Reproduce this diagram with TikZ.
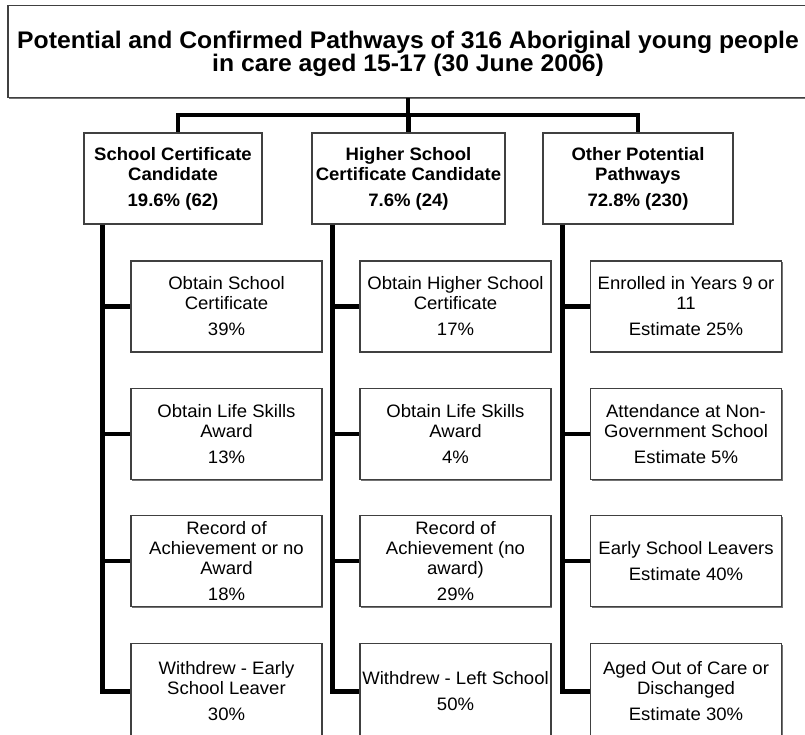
\documentclass[tikz,border=0pt]{standalone}
\usepackage{fontspec}
\setmainfont{Liberation Sans}[FakeStretch=1.03]
\usetikzlibrary{positioning, calc, shadows}
\tikzset{
  box/.style = {draw=black!75, line width=1.1pt, fill=white, align=center, inner sep=2pt,
    drop shadow={shadow xshift=1.3pt, shadow yshift=-1.3pt, fill=black!55, opacity=1}},
  head/.style = {box, font=\bfseries\fontsize{18}{20}\selectfont, minimum height=91pt},
  leaf/.style = {box, font=\fontsize{18}{20}\selectfont, minimum width=191pt, minimum height=91pt},
  link/.style = {line width=4.5pt, black}
}

\begin{document}
\begin{tikzpicture}[x=1pt, y=-1pt]
  \useasboundingbox (0,0) rectangle (805,735);

  \def\colA{226.5}
  \def\colB{455.5}
  \def\colC{686}
  \def\rowA{306.5}
  \def\rowB{434}
  \def\rowC{561}
  \def\rowD{643}

  \node[box, minimum width=800pt, minimum height=92pt, font=\bfseries\fontsize{24}{23}\selectfont]
    (title) at (408,51.5) {\rule{0pt}{23pt}Potential and Confirmed Pathways of 316 Aboriginal young people\\in care aged 15-17 (30 June 2006)};

  \node[head, minimum width=178pt] (sc)  at (173,178.5)   {School Certificate\\Candidate\\[6pt]19.6\% (62)};
  \node[head, minimum width=193pt] (hsc) at (408.5,178.5) {Higher School\\Certificate Candidate\\[6pt]7.6\% (24)};
  \node[head, minimum width=190pt] (op)  at (638,178.5)   {Other Potential\\Pathways\\[6pt]72.8\% (230)};

  % school certificate
  \node[leaf] (sc1) at (\colA,\rowA) {Obtain School\\Certificate\\[6pt]39\%};
  \node[leaf] (sc2) at (\colA,\rowB) {Obtain Life Skills\\Award\\[6pt]13\%};
  \node[leaf] (sc3) at (\colA,\rowC) {Record of\\Achievement or no\\Award\\[6pt]18\%};
  \node[leaf, minimum height=96pt, anchor=north] (sc4) at (\colA,\rowD) {Withdrew - Early\\School Leaver\\[6pt]30\%};

  % higher school certificate
  \node[leaf] (hsc1) at (\colB,\rowA) {Obtain Higher School\\Certificate\\[6pt]17\%};
  \node[leaf] (hsc2) at (\colB,\rowB) {Obtain Life Skills\\Award\\[6pt]4\%};
  \node[leaf] (hsc3) at (\colB,\rowC) {Record of\\Achievement (no\\award)\\[6pt]29\%};
  \node[leaf, minimum height=96pt, anchor=north] (hsc4) at (\colB,\rowD) {Withdrew - Left School\\[6pt]50\%};

  % other pathways
  \node[leaf] (op1) at (\colC,\rowA) {Enrolled in Years 9 or\\11\\[6pt]Estimate 25\%};
  \node[leaf] (op2) at (\colC,\rowB) {Attendance at Non-\\Government School\\[6pt]Estimate 5\%};
  \node[leaf] (op3) at (\colC,\rowC) {Early School Leavers\\[6pt]Estimate 40\%};
  \node[leaf, minimum height=96pt, anchor=north] (op4) at (\colC,\rowD) {Aged Out of Care or\\Dischanged\\[6pt]Estimate 30\%};

  \coordinate (hub) at (408,115);
  \draw[link] (title.south) -- (hub);
  \draw[link] (hub) -| ([xshift=5pt]sc.north);
  \draw[link] (hub) -| (hsc.north);
  \draw[link] (hub) -| (op.north);

  \coordinate (scT)  at ([xshift=19pt]sc.south west);
  \coordinate (hscT) at ([xshift=21pt]hsc.south west);
  \coordinate (opT)  at ([xshift=20pt]op.south west);

  \draw[link] (scT) |- (sc4.west);
  \draw[link] (sc1.west) -- (sc1.west -| scT);
  \draw[link] (sc2.west) -- (sc2.west -| scT);
  \draw[link] (sc3.west) -- (sc3.west -| scT);

  \draw[link] (hscT) |- (hsc4.west);
  \draw[link] (hsc1.west) -- (hsc1.west -| hscT);
  \draw[link] (hsc2.west) -- (hsc2.west -| hscT);
  \draw[link] (hsc3.west) -- (hsc3.west -| hscT);

  \draw[link] (opT) |- (op4.west);
  \draw[link] (op1.west) -- (op1.west -| opT);
  \draw[link] (op2.west) -- (op2.west -| opT);
  \draw[link] (op3.west) -- (op3.west -| opT);
\end{tikzpicture}
\end{document}
